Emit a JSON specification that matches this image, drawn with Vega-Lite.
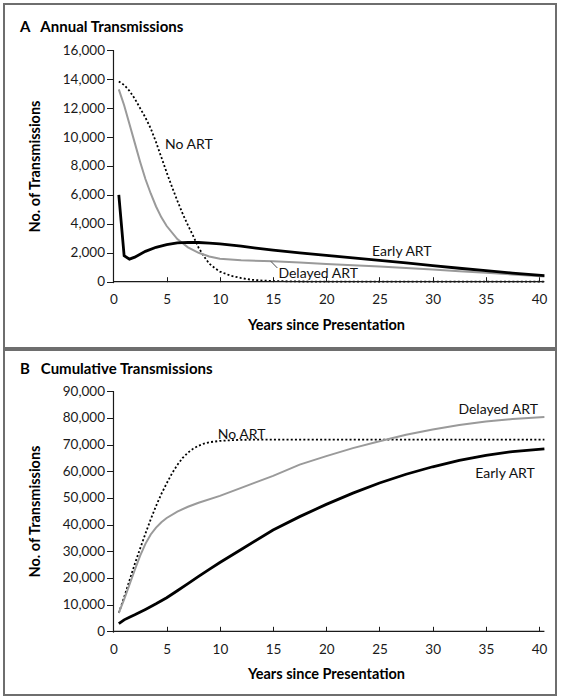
{
  "$schema": "https://vega.github.io/schema/vega-lite/v6.json",
  "padding": {"left": 3, "top": 3, "right": 0, "bottom": 0},
  "autosize": {"type": "pad"},
  "background": "white",
  "spacing": 0,
  "config": {
    "view": {"stroke": "#6e6e6e", "strokeWidth": 2},
    "font": "Lato",
    "concat": {"spacing": 0},
    "axis": {"grid": false, "domain": false, "labelFont": "Lato", "labelFontSize": 13.5, "labelColor": "#1a1a1a", "tickColor": "#1a1a1a", "titleFont": "Lato", "titleFontSize": 14.5, "titleFontWeight": "bold", "titleColor": "#000", "labelOverlap": false},
    "text": {"font": "Lato", "fontSize": 14, "color": "#111"}
  },
  "datasets": {
    "one": [{}],
    "annual": [
      {"s": "No ART", "t": 0.5, "v": 13850}, {"s": "No ART", "t": 1, "v": 13600}, {"s": "No ART", "t": 1.5, "v": 13200}, {"s": "No ART", "t": 2, "v": 12650}, {"s": "No ART", "t": 2.5, "v": 12000}, {"s": "No ART", "t": 3, "v": 11350}, {"s": "No ART", "t": 3.5, "v": 10600}, {"s": "No ART", "t": 4, "v": 9650}, {"s": "No ART", "t": 4.5, "v": 8600}, {"s": "No ART", "t": 5, "v": 7550}, {"s": "No ART", "t": 5.5, "v": 6550}, {"s": "No ART", "t": 6, "v": 5600}, {"s": "No ART", "t": 6.5, "v": 4700}, {"s": "No ART", "t": 7, "v": 3900}, {"s": "No ART", "t": 7.5, "v": 3150}, {"s": "No ART", "t": 8, "v": 2350}, {"s": "No ART", "t": 8.5, "v": 1750}, {"s": "No ART", "t": 9, "v": 1250}, {"s": "No ART", "t": 9.5, "v": 950}, {"s": "No ART", "t": 10, "v": 700}, {"s": "No ART", "t": 11, "v": 420}, {"s": "No ART", "t": 12, "v": 250}, {"s": "No ART", "t": 13, "v": 130}, {"s": "No ART", "t": 14, "v": 80}, {"s": "No ART", "t": 15, "v": 45}, {"s": "No ART", "t": 17.5, "v": 15}, {"s": "No ART", "t": 20, "v": 5}, {"s": "No ART", "t": 25, "v": 0}, {"s": "No ART", "t": 30, "v": 0}, {"s": "No ART", "t": 40.5, "v": 0},
      {"s": "Delayed ART", "t": 0.5, "v": 13300}, {"s": "Delayed ART", "t": 1, "v": 12200}, {"s": "Delayed ART", "t": 1.5, "v": 10900}, {"s": "Delayed ART", "t": 2, "v": 9600}, {"s": "Delayed ART", "t": 2.5, "v": 8300}, {"s": "Delayed ART", "t": 3, "v": 7100}, {"s": "Delayed ART", "t": 3.5, "v": 6100}, {"s": "Delayed ART", "t": 4, "v": 5200}, {"s": "Delayed ART", "t": 4.5, "v": 4450}, {"s": "Delayed ART", "t": 5, "v": 3850}, {"s": "Delayed ART", "t": 6, "v": 2950}, {"s": "Delayed ART", "t": 7, "v": 2380}, {"s": "Delayed ART", "t": 8, "v": 2000}, {"s": "Delayed ART", "t": 9, "v": 1740}, {"s": "Delayed ART", "t": 10, "v": 1580}, {"s": "Delayed ART", "t": 12, "v": 1480}, {"s": "Delayed ART", "t": 15, "v": 1420}, {"s": "Delayed ART", "t": 17.5, "v": 1320}, {"s": "Delayed ART", "t": 20, "v": 1230}, {"s": "Delayed ART", "t": 22.5, "v": 1140}, {"s": "Delayed ART", "t": 25, "v": 1050}, {"s": "Delayed ART", "t": 27.5, "v": 950}, {"s": "Delayed ART", "t": 30, "v": 840}, {"s": "Delayed ART", "t": 32.5, "v": 730}, {"s": "Delayed ART", "t": 35, "v": 620}, {"s": "Delayed ART", "t": 37.5, "v": 500}, {"s": "Delayed ART", "t": 40.5, "v": 360},
      {"s": "Early ART", "t": 0.5, "v": 6000}, {"s": "Early ART", "t": 1, "v": 1800}, {"s": "Early ART", "t": 1.5, "v": 1560}, {"s": "Early ART", "t": 2, "v": 1700}, {"s": "Early ART", "t": 3, "v": 2100}, {"s": "Early ART", "t": 4, "v": 2380}, {"s": "Early ART", "t": 5, "v": 2560}, {"s": "Early ART", "t": 6, "v": 2680}, {"s": "Early ART", "t": 7, "v": 2720}, {"s": "Early ART", "t": 8, "v": 2710}, {"s": "Early ART", "t": 9, "v": 2670}, {"s": "Early ART", "t": 10, "v": 2610}, {"s": "Early ART", "t": 12, "v": 2460}, {"s": "Early ART", "t": 13.4, "v": 2320}, {"s": "Early ART", "t": 15, "v": 2180}, {"s": "Early ART", "t": 17.5, "v": 1990}, {"s": "Early ART", "t": 20, "v": 1820}, {"s": "Early ART", "t": 22.5, "v": 1650}, {"s": "Early ART", "t": 25, "v": 1480}, {"s": "Early ART", "t": 27.5, "v": 1300}, {"s": "Early ART", "t": 30, "v": 1110}, {"s": "Early ART", "t": 32.5, "v": 930}, {"s": "Early ART", "t": 35, "v": 760}, {"s": "Early ART", "t": 37.5, "v": 600}, {"s": "Early ART", "t": 40.5, "v": 420}
    ],
    "cumulative": [
      {"s": "No ART", "t": 0.5, "v": 6900}, {"s": "No ART", "t": 1, "v": 12800}, {"s": "No ART", "t": 1.5, "v": 19000}, {"s": "No ART", "t": 2, "v": 25200}, {"s": "No ART", "t": 2.5, "v": 31000}, {"s": "No ART", "t": 3, "v": 36600}, {"s": "No ART", "t": 3.5, "v": 42000}, {"s": "No ART", "t": 4, "v": 47000}, {"s": "No ART", "t": 4.5, "v": 51500}, {"s": "No ART", "t": 5, "v": 55500}, {"s": "No ART", "t": 5.5, "v": 59200}, {"s": "No ART", "t": 6, "v": 62400}, {"s": "No ART", "t": 6.5, "v": 65000}, {"s": "No ART", "t": 7, "v": 67000}, {"s": "No ART", "t": 7.5, "v": 68500}, {"s": "No ART", "t": 8, "v": 69600}, {"s": "No ART", "t": 8.5, "v": 70400}, {"s": "No ART", "t": 9, "v": 70900}, {"s": "No ART", "t": 10, "v": 71400}, {"s": "No ART", "t": 11, "v": 71650}, {"s": "No ART", "t": 12, "v": 71800}, {"s": "No ART", "t": 14, "v": 71900}, {"s": "No ART", "t": 20, "v": 71900}, {"s": "No ART", "t": 30, "v": 71900}, {"s": "No ART", "t": 40.5, "v": 71900},
      {"s": "Delayed ART", "t": 0.5, "v": 6900}, {"s": "Delayed ART", "t": 1, "v": 12000}, {"s": "Delayed ART", "t": 1.5, "v": 17500}, {"s": "Delayed ART", "t": 2, "v": 23000}, {"s": "Delayed ART", "t": 2.5, "v": 28300}, {"s": "Delayed ART", "t": 3, "v": 32800}, {"s": "Delayed ART", "t": 3.5, "v": 36300}, {"s": "Delayed ART", "t": 4, "v": 38900}, {"s": "Delayed ART", "t": 4.5, "v": 40900}, {"s": "Delayed ART", "t": 5, "v": 42500}, {"s": "Delayed ART", "t": 6, "v": 44900}, {"s": "Delayed ART", "t": 7, "v": 46700}, {"s": "Delayed ART", "t": 8, "v": 48200}, {"s": "Delayed ART", "t": 10, "v": 50800}, {"s": "Delayed ART", "t": 12, "v": 53800}, {"s": "Delayed ART", "t": 15, "v": 58300}, {"s": "Delayed ART", "t": 17.5, "v": 62500}, {"s": "Delayed ART", "t": 20, "v": 65700}, {"s": "Delayed ART", "t": 22.5, "v": 68700}, {"s": "Delayed ART", "t": 25, "v": 71300}, {"s": "Delayed ART", "t": 27.5, "v": 73700}, {"s": "Delayed ART", "t": 30, "v": 75700}, {"s": "Delayed ART", "t": 32.5, "v": 77400}, {"s": "Delayed ART", "t": 35, "v": 78700}, {"s": "Delayed ART", "t": 37.5, "v": 79600}, {"s": "Delayed ART", "t": 40.5, "v": 80400},
      {"s": "Early ART", "t": 0.5, "v": 2850}, {"s": "Early ART", "t": 1, "v": 4300}, {"s": "Early ART", "t": 1.5, "v": 5300}, {"s": "Early ART", "t": 2, "v": 6200}, {"s": "Early ART", "t": 3, "v": 8200}, {"s": "Early ART", "t": 4, "v": 10300}, {"s": "Early ART", "t": 5, "v": 12600}, {"s": "Early ART", "t": 6, "v": 15200}, {"s": "Early ART", "t": 7, "v": 17900}, {"s": "Early ART", "t": 8, "v": 20600}, {"s": "Early ART", "t": 9, "v": 23200}, {"s": "Early ART", "t": 10, "v": 25800}, {"s": "Early ART", "t": 12, "v": 30700}, {"s": "Early ART", "t": 15, "v": 38000}, {"s": "Early ART", "t": 17.5, "v": 43000}, {"s": "Early ART", "t": 20, "v": 47600}, {"s": "Early ART", "t": 22.5, "v": 51800}, {"s": "Early ART", "t": 25, "v": 55600}, {"s": "Early ART", "t": 27.5, "v": 58900}, {"s": "Early ART", "t": 30, "v": 61700}, {"s": "Early ART", "t": 32.5, "v": 64100}, {"s": "Early ART", "t": 35, "v": 66000}, {"s": "Early ART", "t": 37.5, "v": 67400}, {"s": "Early ART", "t": 40.5, "v": 68400}
    ]
  },
  "vconcat": [
    {
      "width": 552,
      "height": 344,
      "title": {"text": "A\u00a0\u00a0\u00a0Annual Transmissions", "anchor": "start", "frame": "group", "orient": "top", "offset": -31, "dx": 16, "fontSize": 15, "fontWeight": "bold", "font": "Lato", "color": "#000"},
      "layer": [
        {
          "data": {"name": "annual"},
          "mark": {"type": "line", "color": "#000", "strokeWidth": 1.8, "strokeDash": [2, 2.2]},
          "transform": [{"filter": "datum.s === 'No ART'"}],
          "encoding": {
            "x": {"field": "t", "type": "quantitative", "scale": {"domain": [-10.29, 41.59], "nice": false, "zero": false},
                  "axis": {"values": [0, 5, 10, 15, 20, 25, 30, 35, 40], "tickCount": 30, "format": "d", "labelOverlap": false, "offset": -66.3, "tickSize": -5, "labelPadding": 16, "title": "Years since Presentation", "titleX": 322, "titleY": 47.6, "titleBaseline": "alphabetic", "titleAnchor": "middle", "titleAlign": "center"}},
            "y": {"field": "v", "type": "quantitative", "scale": {"domain": [-4584, 19201], "nice": false, "zero": false},
                  "axis": {"values": [0, 2000, 4000, 6000, 8000, 10000, 12000, 14000, 16000], "tickCount": 30, "format": ",.0f", "labelOverlap": false, "offset": -109.5, "tickSize": 7, "labelPadding": 2, "title": "No. of Transmissions", "titleX": -78.5, "titleY": 162, "titleBaseline": "middle", "titleAlign": "center", "titleAngle": -90}}
          }
        },
        {
          "data": {"name": "annual"},
          "mark": {"type": "line", "color": "#9a9a9a", "strokeWidth": 2},
          "transform": [{"filter": "datum.s === 'Delayed ART'"}],
          "encoding": {"x": {"field": "t", "type": "quantitative"}, "y": {"field": "v", "type": "quantitative"}}
        },
        {
          "data": {"name": "annual"},
          "mark": {"type": "line", "color": "#000", "strokeWidth": 2.8},
          "transform": [{"filter": "datum.s === 'Early ART'"}],
          "encoding": {"x": {"field": "t", "type": "quantitative"}, "y": {"field": "v", "type": "quantitative"}}
        },
        {
          "data": {"name": "one"},
          "mark": {"type": "rule", "color": "#1a1a1a", "strokeWidth": 1.2},
          "encoding": {"x": {"datum": 0}, "x2": {"datum": 40.5}, "y": {"datum": 0}}
        },
        {
          "data": {"name": "one"},
          "mark": {"type": "rule", "color": "#1a1a1a", "strokeWidth": 1.2},
          "encoding": {"x": {"datum": 0}, "y": {"datum": -100}, "y2": {"datum": 16000}}
        },
        {
          "data": {"name": "one"},
          "mark": {"type": "rule", "color": "#333", "strokeWidth": 0.9},
          "encoding": {"x": {"datum": 14.8}, "y": {"datum": 1400}, "x2": {"datum": 15.4}, "y2": {"datum": 950}}
        },
        {
          "data": {"name": "one"},
          "mark": {"type": "text", "align": "left", "baseline": "alphabetic"},
          "encoding": {"x": {"datum": 4.85}, "y": {"datum": 9150}, "text": {"value": "No ART"}}
        },
        {
          "data": {"name": "one"},
          "mark": {"type": "text", "align": "left", "baseline": "alphabetic"},
          "encoding": {"x": {"datum": 24.3}, "y": {"datum": 1777}, "text": {"value": "Early ART"}}
        },
        {
          "data": {"name": "one"},
          "mark": {"type": "text", "align": "left", "baseline": "alphabetic"},
          "encoding": {"x": {"datum": 15.5}, "y": {"datum": 277}, "text": {"value": "Delayed ART"}}
        }
      ]
    },
    {
      "width": 552,
      "height": 345,
      "title": {"text": "B\u00a0\u00a0\u00a0Cumulative Transmissions", "anchor": "start", "frame": "group", "orient": "top", "offset": -27, "dx": 16, "fontSize": 15, "fontWeight": "bold", "font": "Lato", "color": "#000"},
      "layer": [
        {
          "data": {"name": "cumulative"},
          "mark": {"type": "line", "color": "#000", "strokeWidth": 1.8, "strokeDash": [2, 2.2]},
          "transform": [{"filter": "datum.s === 'No ART'"}],
          "encoding": {
            "x": {"field": "t", "type": "quantitative", "scale": {"domain": [-10.29, 41.59], "nice": false, "zero": false},
                  "axis": {"values": [0, 5, 10, 15, 20, 25, 30, 35, 40], "tickCount": 30, "format": "d", "labelOverlap": false, "offset": -63.7, "tickSize": -5, "labelPadding": 16, "title": "Years since Presentation", "titleX": 322, "titleY": 46.7, "titleBaseline": "alphabetic", "titleAnchor": "middle", "titleAlign": "center"}},
            "y": {"field": "v", "type": "quantitative", "scale": {"domain": [-23887, 105488], "nice": false, "zero": false},
                  "axis": {"values": [0, 10000, 20000, 30000, 40000, 50000, 60000, 70000, 80000, 90000], "tickCount": 30, "format": ",.0f", "labelOverlap": false, "offset": -109.5, "tickSize": 7, "labelPadding": 2, "title": "No. of Transmissions", "titleX": -78.5, "titleY": 161, "titleBaseline": "middle", "titleAlign": "center", "titleAngle": -90}}
          }
        },
        {
          "data": {"name": "cumulative"},
          "mark": {"type": "line", "color": "#9a9a9a", "strokeWidth": 2},
          "transform": [{"filter": "datum.s === 'Delayed ART'"}],
          "encoding": {"x": {"field": "t", "type": "quantitative"}, "y": {"field": "v", "type": "quantitative"}}
        },
        {
          "data": {"name": "cumulative"},
          "mark": {"type": "line", "color": "#000", "strokeWidth": 2.8},
          "transform": [{"filter": "datum.s === 'Early ART'"}],
          "encoding": {"x": {"field": "t", "type": "quantitative"}, "y": {"field": "v", "type": "quantitative"}}
        },
        {
          "data": {"name": "one"},
          "mark": {"type": "rule", "color": "#1a1a1a", "strokeWidth": 1.2},
          "encoding": {"x": {"datum": 0}, "x2": {"datum": 40.5}, "y": {"datum": 0}}
        },
        {
          "data": {"name": "one"},
          "mark": {"type": "rule", "color": "#1a1a1a", "strokeWidth": 1.2},
          "encoding": {"x": {"datum": 0}, "y": {"datum": -500}, "y2": {"datum": 90000}}
        },
        {
          "data": {"name": "one"},
          "mark": {"type": "text", "align": "left", "baseline": "alphabetic"},
          "encoding": {"x": {"datum": 9.8}, "y": {"datum": 72300}, "text": {"value": "No ART"}}
        },
        {
          "data": {"name": "one"},
          "mark": {"type": "text", "align": "right", "baseline": "alphabetic"},
          "encoding": {"x": {"datum": 39.9}, "y": {"datum": 81590}, "text": {"value": "Delayed ART"}}
        },
        {
          "data": {"name": "one"},
          "mark": {"type": "text", "align": "right", "baseline": "alphabetic"},
          "encoding": {"x": {"datum": 39.6}, "y": {"datum": 57480}, "text": {"value": "Early ART"}}
        }
      ]
    }
  ]
}
